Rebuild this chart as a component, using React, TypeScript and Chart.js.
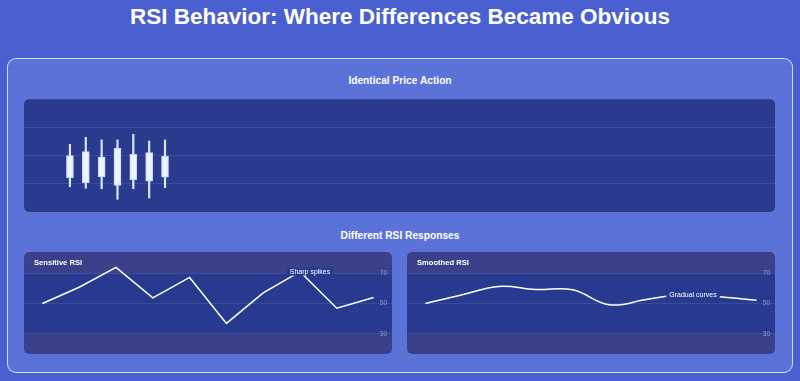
import React, { useEffect, useRef } from "react";
import { Chart, registerables } from "chart.js";

Chart.register(...registerables);

// ---------- Data ----------
const candleDays = [1, 2, 3, 4, 5, 6, 7];
const candleOpen = [98.43, 98.07, 98.48, 97.89, 98.29, 98.19, 98.46];
const candleClose = [99.99, 100.27, 99.89, 100.51, 100.08, 100.2, 99.96];
const candleHigh = [100.79, 101.29, 101.1, 101.1, 101.5, 101.03, 101.1];
const candleLow = [97.79, 97.68, 97.65, 96.9, 97.65, 96.99, 97.72];
const priceTicks = [96, 98, 100, 102, 104];

const rsiLabels = ["1", "2", "3", "4", "5", "6", "7", "8", "9", "10"];
const sensitiveRsi = [50, 60.7, 73.8, 53.7, 67.2, 36.9, 57, 71, 46.9, 53.9];
const smoothedRsi = [50, 55.8, 61.2, 59.2, 59, 49.2, 52.6, 56, 54.4, 52.2];
const rsiTicks = [30, 50, 70];
const rsiBandLow = 30;
const rsiBandHigh = 70;
const noteIndex = 7;

const FONT = "'Liberation Sans', Arial, Helvetica, sans-serif";

const COLORS = {
  page: "#4a60d0",
  card: "#5b73d9",
  candlePanel: "#2a3b8e",
  rsiPanel: "#3a408a",
  band: "#283a8f",
  grid: "rgba(255,255,255,0.09)",
  candleBody: "#ebf3fd",
  candleBorder: "#c8d8f2",
  wick: "#dde7f8",
};

function CandleChart() {
  const ref = useRef<HTMLCanvasElement | null>(null);
  useEffect(() => {
    if (!ref.current) return;
    const chart = new Chart(ref.current, {
      type: "bar",
      data: {
        datasets: [
          {
            label: "body",
            data: candleDays.map((d, i) => ({ x: d, y: [candleOpen[i], candleClose[i]] })) as any,
            backgroundColor: COLORS.candleBody,
            borderColor: COLORS.candleBorder,
            borderWidth: 1,
            borderSkipped: false,
            barThickness: 7,
            grouped: false,
            order: 0,
          } as any,
          {
            label: "wick",
            data: candleDays.map((d, i) => ({ x: d, y: [candleLow[i], candleHigh[i]] })) as any,
            backgroundColor: COLORS.wick,
            borderWidth: 0,
            barThickness: 1.5,
            grouped: false,
            order: 1,
          } as any,
        ],
      },
      options: {
        animation: false,
        responsive: true,
        maintainAspectRatio: false,
        layout: { padding: 0 },
        plugins: { legend: { display: false }, tooltip: { enabled: false } },
        scales: {
          x: { type: "linear", min: -1.9, max: 45.5, offset: false, display: false },
          y: {
            min: priceTicks[0],
            max: priceTicks[priceTicks.length - 1],
            afterBuildTicks: (s: any) => {
              s.ticks = priceTicks.map((v) => ({ value: v }));
            },
            afterFit: (s: any) => {
              s.width = 0;
              s.paddingTop = 0;
              s.paddingBottom = 0;
            },
            ticks: { display: false },
            grid: { color: COLORS.grid, drawTicks: false, lineWidth: 1 },
            border: { display: false },
          },
        },
      },
    });
    return () => chart.destroy();
  }, []);
  return (
    <div style={{ position: "relative", width: "100%", height: "100%" }}>
      <canvas ref={ref} />
    </div>
  );
}

function RsiChart({ data, tension, note }: { data: number[]; tension: number; note: string }) {
  const ref = useRef<HTMLCanvasElement | null>(null);
  useEffect(() => {
    if (!ref.current) return;
    const bandPlugin = {
      id: "band",
      beforeDraw(chart: any) {
        const { ctx, chartArea, scales } = chart;
        const y1 = scales.y.getPixelForValue(rsiBandHigh);
        const y2 = scales.y.getPixelForValue(rsiBandLow);
        ctx.save();
        ctx.fillStyle = COLORS.band;
        ctx.fillRect(chartArea.left, y1, chartArea.right - chartArea.left, y2 - y1);
        ctx.restore();
      },
    };
    const notePlugin = {
      id: "note",
      afterDatasetsDraw(chart: any) {
        const { ctx, scales } = chart;
        const x = scales.x.getPixelForValue(noteIndex) + 10;
        const y = scales.y.getPixelForValue(data[noteIndex]);
        ctx.save();
        ctx.font = `7px ${FONT}`;
        const w = ctx.measureText(note).width + 6;
        const h = 8;
        ctx.fillStyle = COLORS.band;
        ctx.fillRect(x - w / 2, y - h / 2, w, h);
        ctx.fillStyle = "#ffffff";
        ctx.textAlign = "center";
        ctx.textBaseline = "middle";
        ctx.fillText(note, x, y + 0.5);
        ctx.restore();
      },
    };
    const chart = new Chart(ref.current, {
      type: "line",
      data: {
        labels: rsiLabels,
        datasets: [
          {
            data,
            borderColor: "#ffffff",
            borderWidth: 1.5,
            pointRadius: 0,
            tension,
            fill: false,
          },
        ],
      },
      options: {
        animation: false,
        responsive: true,
        maintainAspectRatio: false,
        layout: { padding: { top: 6, bottom: 5, left: 0, right: 0 } },
        plugins: { legend: { display: false }, tooltip: { enabled: false } },
        scales: {
          x: { display: false, offset: true },
          y: {
            position: "right",
            min: 20,
            max: 80,
            afterBuildTicks: (s: any) => {
              s.ticks = rsiTicks.map((v) => ({ value: v }));
            },
            afterFit: (s: any) => {
              s.width = 0;
              s.paddingTop = 0;
              s.paddingBottom = 0;
            },
            ticks: {
              mirror: true,
              padding: -5,
              color: "rgba(255,255,255,0.45)",
              font: { size: 6.5, family: FONT },
            },
            grid: { color: COLORS.grid, drawTicks: false },
            border: { display: false },
          },
        },
      },
      plugins: [bandPlugin, notePlugin],
    });
    return () => chart.destroy();
  }, [data, tension, note]);
  return (
    <div style={{ position: "relative", width: "100%", height: "100%" }}>
      <canvas ref={ref} />
    </div>
  );
}

function RsiPanel({ left, title, data, tension, note }: any) {
  return (
    <div
      style={{
        position: "absolute",
        left,
        top: 252,
        width: 368,
        height: 102,
        background: COLORS.rsiPanel,
        borderRadius: 5,
        overflow: "hidden",
      }}
    >
      <RsiChart data={data} tension={tension} note={note} />
      <div
        style={{
          position: "absolute",
          left: 10,
          top: 5.5,
          height: 10,
          lineHeight: "10px",
          fontSize: 7.6,
          fontWeight: 700,
          color: "#ffffff",
          fontFamily: FONT,
        }}
      >
        {title}
      </div>
    </div>
  );
}

export default function App() {
  return (
    <div
      style={{
        position: "absolute",
        left: 0,
        top: 0,
        width: 800,
        height: 381,
        background: COLORS.page,
        fontFamily: FONT,
        overflow: "hidden",
      }}
    >
      <div
        style={{
          position: "absolute",
          left: 0,
          top: 0,
          width: 800,
          height: 33,
          lineHeight: "33px",
          textAlign: "center",
          color: "#ffffff",
          fontWeight: 700,
          fontSize: 22.5,
        }}
      >
        RSI Behavior: Where Differences Became Obvious
      </div>
      <div
        style={{
          position: "absolute",
          left: 7,
          top: 58,
          width: 786,
          height: 315,
          boxSizing: "border-box",
          border: "1.5px solid rgba(255,255,255,0.75)",
          borderRadius: 9,
          background: COLORS.card,
        }}
      />
      <div
        style={{
          position: "absolute",
          left: 0,
          top: 71,
          width: 800,
          height: 20,
          lineHeight: "20px",
          textAlign: "center",
          color: "#ffffff",
          fontWeight: 700,
          fontSize: 10.2,
        }}
      >
        Identical Price Action
      </div>
      <div
        style={{
          position: "absolute",
          left: 24,
          top: 99,
          width: 751,
          height: 113,
          background: COLORS.candlePanel,
          borderRadius: 5,
          overflow: "hidden",
        }}
      >
        <CandleChart />
      </div>
      <div
        style={{
          position: "absolute",
          left: 0,
          top: 225.5,
          width: 800,
          height: 20,
          lineHeight: "20px",
          textAlign: "center",
          color: "#ffffff",
          fontWeight: 700,
          fontSize: 10.2,
        }}
      >
        Different RSI Responses
      </div>
      <RsiPanel left={24} title="Sensitive RSI" data={sensitiveRsi} tension={0} note="Sharp spikes" />
      <RsiPanel left={407} title="Smoothed RSI" data={smoothedRsi} tension={0.4} note="Gradual curves" />
    </div>
  );
}
